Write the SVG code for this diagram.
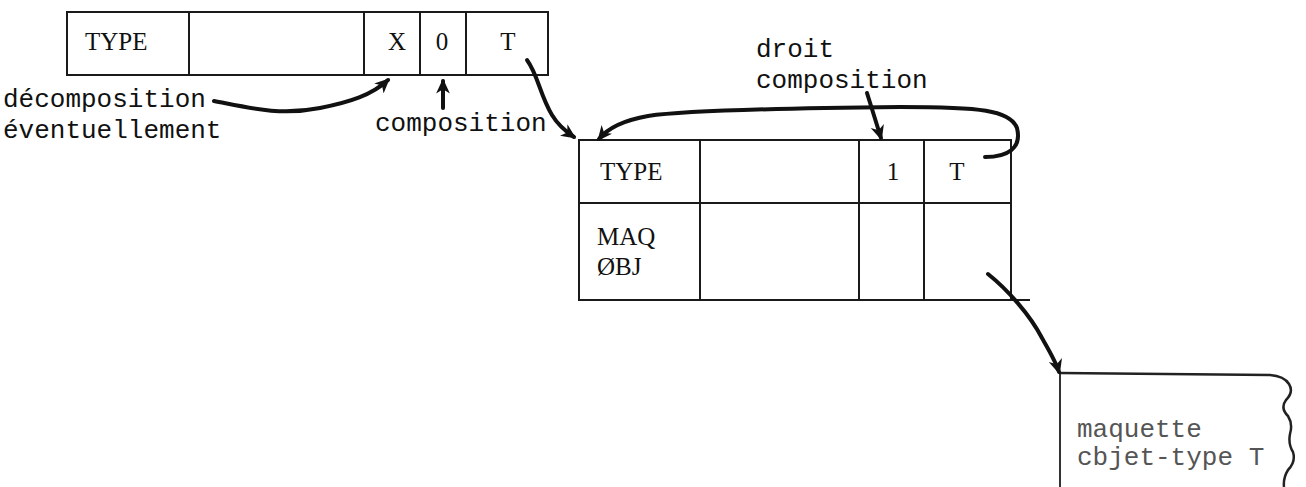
<svg xmlns="http://www.w3.org/2000/svg" width="1306" height="487" viewBox="0 0 1306 487">
<style>
.cell{fill:none;stroke:#1a1a1a;stroke-width:2}
.mono{font-family:"Liberation Mono","DejaVu Sans Mono",monospace;font-size:26px;fill:#111}
.ser{font-family:"Liberation Serif","DejaVu Serif",serif;font-size:25px;fill:#111}
.faded{fill:#555}
.arr{fill:none;stroke:#111;stroke-width:4;stroke-linecap:round;marker-end:url(#ah)}
</style>
<defs>
<marker id="ah" viewBox="0 0 12 12" refX="10" refY="6" markerWidth="15" markerHeight="15" markerUnits="userSpaceOnUse" orient="auto">
<path d="M0,0.5 L12,6 L0,11.5 L3.5,6 z" fill="#111"/>
</marker>
</defs>
<rect width="1306" height="487" fill="#fff"/>
<g id="table1">
<rect class="cell" x="67" y="12" width="481" height="63"/>
<line class="cell" x1="189" y1="12" x2="189" y2="75"/>
<line class="cell" x1="364" y1="12" x2="364" y2="75"/>
<line class="cell" x1="420" y1="12" x2="420" y2="75"/>
<line class="cell" x1="466" y1="12" x2="466" y2="75"/>
<text class="ser" x="85" y="50">TYPE</text>
<text class="ser" x="397" y="50" text-anchor="middle">X</text>
<text class="ser" x="442" y="50" text-anchor="middle">0</text>
<text class="ser" x="508" y="50" text-anchor="middle">T</text>
</g>
<g id="table2">
<rect class="cell" x="579" y="140" width="432" height="160"/>
<line class="cell" x1="579" y1="203" x2="1011" y2="203"/>
<line class="cell" x1="1011" y1="300" x2="1030" y2="300"/>
<line class="cell" x1="700" y1="140" x2="700" y2="300"/>
<line class="cell" x1="859" y1="140" x2="859" y2="300"/>
<line class="cell" x1="924" y1="140" x2="924" y2="300"/>
<text class="ser" x="600" y="180">TYPE</text>
<text class="ser" x="893" y="180" text-anchor="middle">1</text>
<text class="ser" x="957" y="180" text-anchor="middle">T</text>
<text class="ser" x="597" y="245">MAQ</text>
<text class="ser" x="597" y="275">ØBJ</text>
</g>
<g id="maquette">
<path d="M1060 373 L1060 487" fill="none" stroke="#333" stroke-width="2"/>
<path d="M1060 373 L1270 375 Q1284 376 1289 384 Q1294 392 1286 400 Q1280 408 1288 416 Q1293 424 1290 434 Q1288 444 1293 452 Q1296 462 1288 470 Q1283 478 1284 487" fill="none" stroke="#222" stroke-width="2.5"/>
<text class="mono faded" x="1077" y="437">maquette</text>
<text class="mono faded" x="1077" y="465">cbjet-type T</text>
</g>
<g id="labels">
<text class="mono" x="3" y="107">décomposition</text>
<text class="mono" x="3" y="138">éventuellement</text>
<text class="mono" x="375" y="131">composition</text>
<text class="mono" x="756" y="57">droit</text>
<text class="mono" x="756" y="88">composition</text>
</g>
<g id="connectors">
<path class="arr" d="M214 101 C250 108 280 116 320 108 C350 102 372 95 388 80"/>
<path class="arr" d="M443 108 L443 81"/>
<path class="arr" d="M527 60 C538 75 540 95 552 115 C558 125 565 131 574 137"/>
<path class="arr" d="M985 157 C1008 157 1022 148 1017 128 C1010 110 980 107 900 107 C800 108 690 110 648 116 C625 120 608 128 599 139"/>
<path class="arr" d="M867 93 L881 138"/>
<path class="arr" d="M988 274 C1008 290 1030 315 1042 338 C1050 352 1056 362 1059 372"/>
</g>
</svg>
